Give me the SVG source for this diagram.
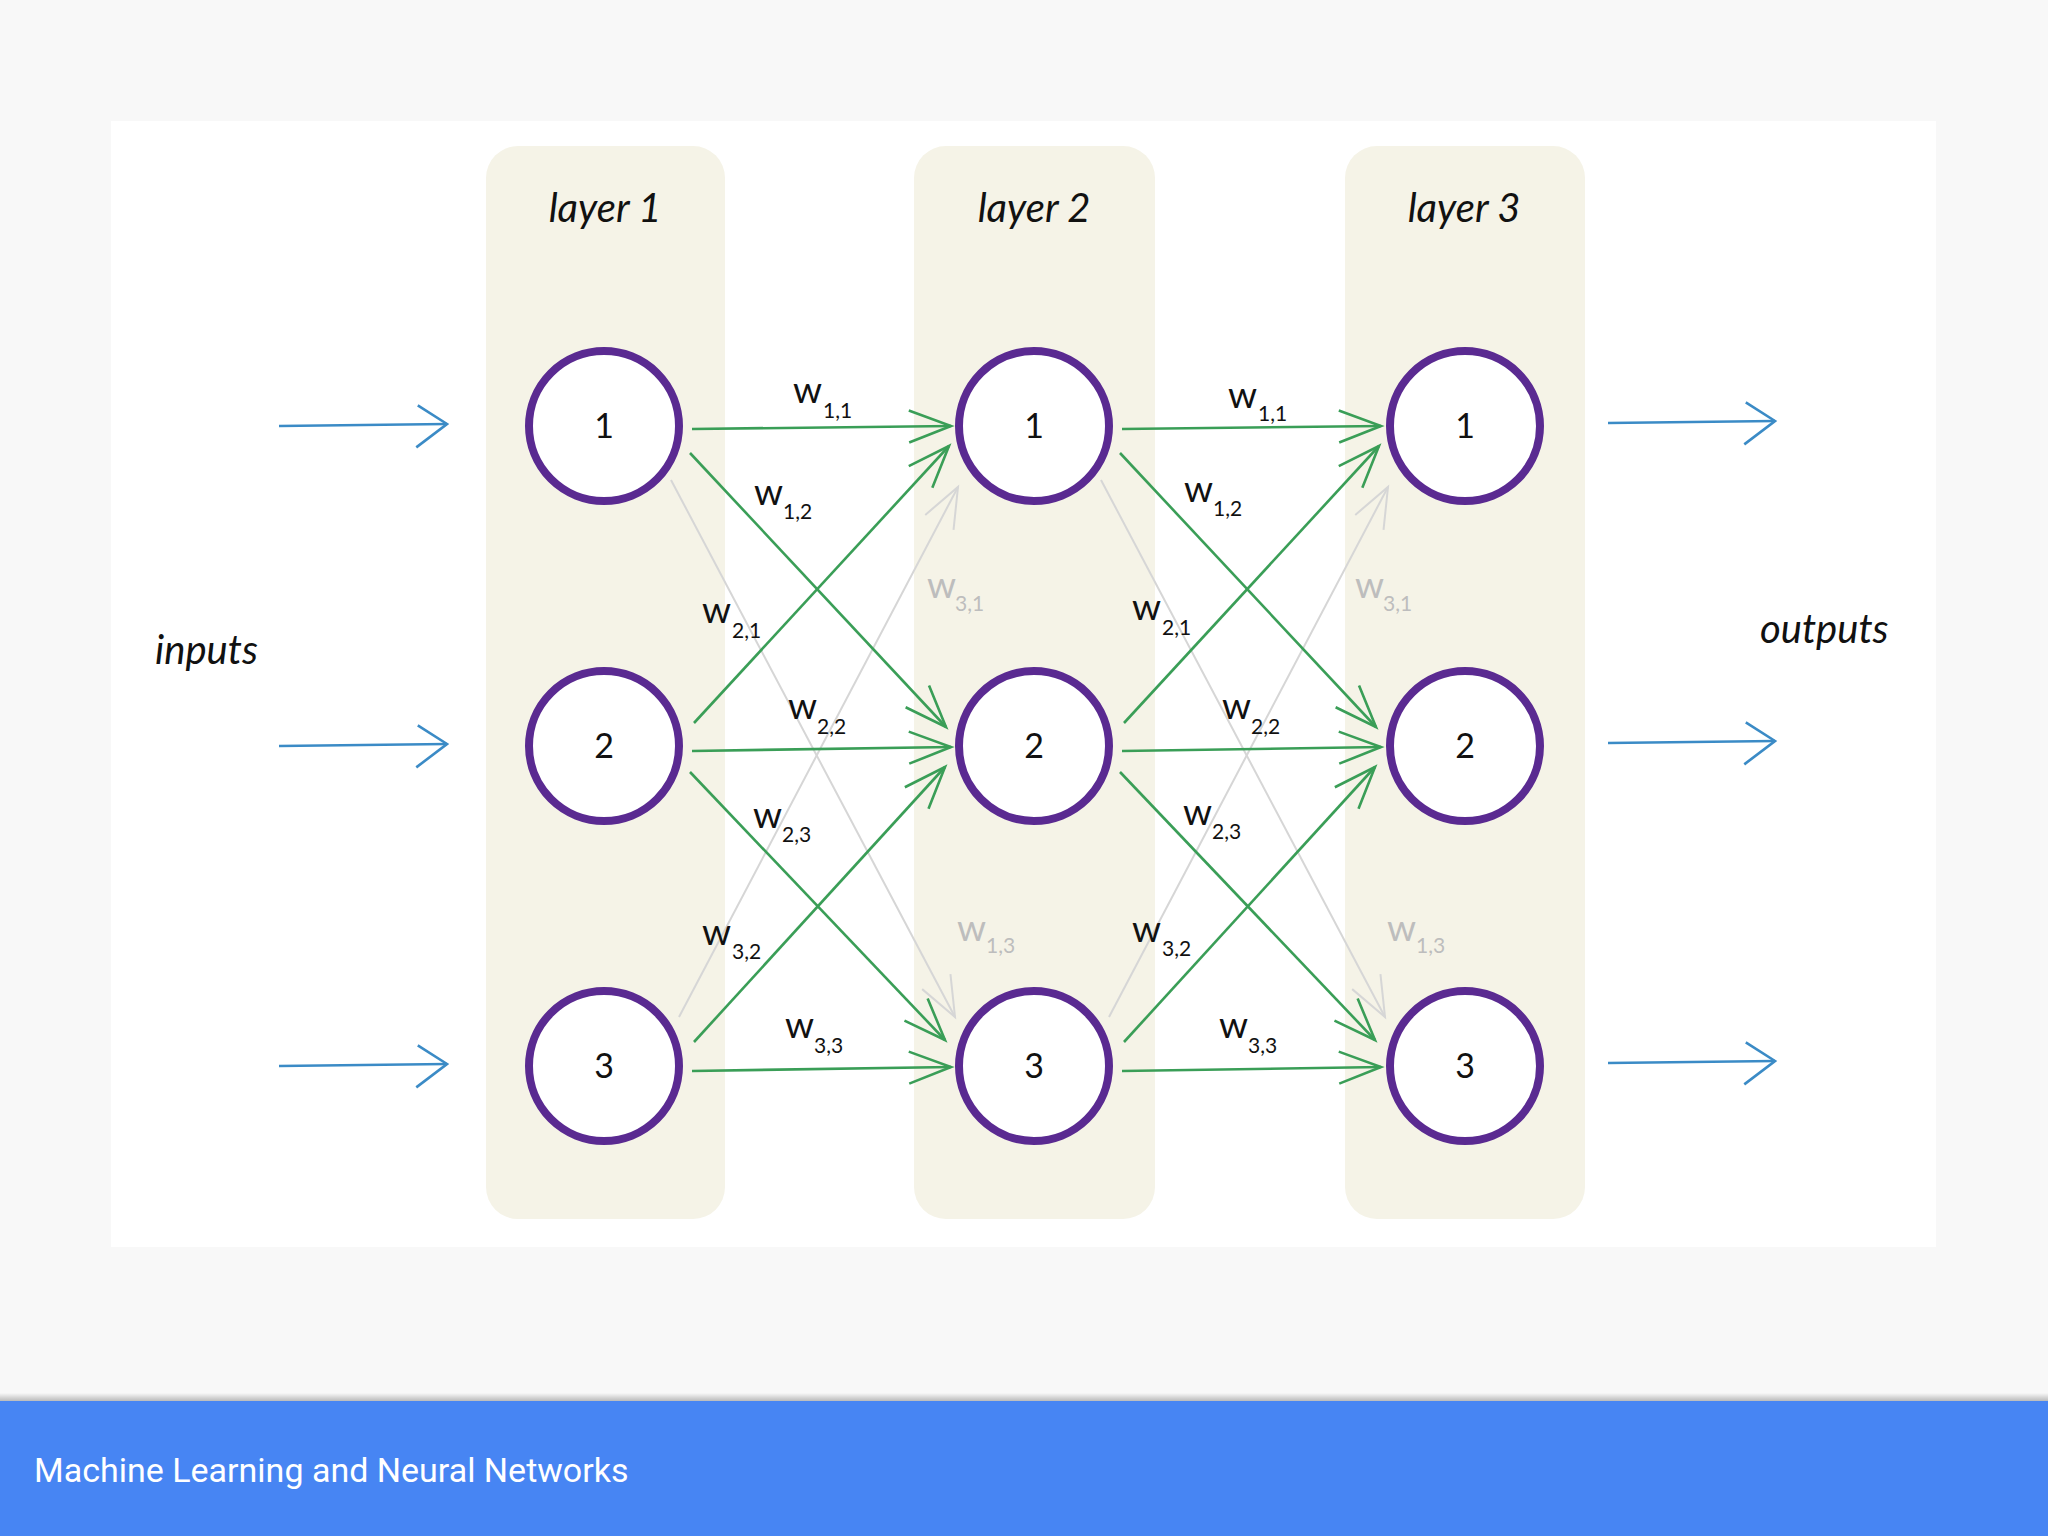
<svg xmlns="http://www.w3.org/2000/svg" width="2048" height="1536" viewBox="0 0 2048 1536">
<defs>
<style>
.col{fill:#f5f3e7}
.node circle{fill:#ffffff;stroke:#5a2a91;stroke-width:8}
.num{font-family:Lato,"Open Sans",sans-serif;font-size:34px;fill:#111;text-anchor:middle}
.hand{font-family:Lato,"Open Sans",sans-serif;font-style:italic;font-size:40px;fill:#111}
.w{font-family:Lato,"Open Sans",sans-serif;font-size:37px;fill:#111}
.wg{font-family:Lato,"Open Sans",sans-serif;font-size:37px;fill:#bdbdbd}
.sub{font-size:21px}
.g{stroke:#3a9e57;stroke-width:2.6;fill:none;marker-end:url(#ag)}
.gr{stroke:#d6d6d6;stroke-width:2;fill:none;marker-end:url(#agr)}
.b{stroke:#3b8bc6;stroke-width:2.6;fill:none;marker-end:url(#ab)}
</style>
<marker id="ag" markerUnits="userSpaceOnUse" markerWidth="60" markerHeight="60" refX="0" refY="0" orient="auto" overflow="visible"><path d="M-42,-16 L0,0 L-42,16" fill="none" stroke="#3a9e57" stroke-width="2.6"/></marker>
<marker id="agr" markerUnits="userSpaceOnUse" markerWidth="60" markerHeight="60" refX="0" refY="0" orient="auto" overflow="visible"><path d="M-40,-16 L0,0 L-40,16" fill="none" stroke="#d6d6d6" stroke-width="2"/></marker>
<marker id="ab" markerUnits="userSpaceOnUse" markerWidth="60" markerHeight="60" refX="0" refY="0" orient="auto" overflow="visible"><path d="M-29,-19 L0,0 L-31,23" fill="none" stroke="#3b8bc6" stroke-width="2.6"/></marker>
<linearGradient id="sh" x1="0" y1="0" x2="0" y2="1"><stop offset="0" stop-color="#000" stop-opacity="0"/><stop offset="1" stop-color="#000" stop-opacity="0.25"/></linearGradient>
</defs>
<rect width="2048" height="1536" fill="#f8f8f8"/>
<rect x="111" y="121" width="1825" height="1126" fill="#ffffff"/>

<g id="layer1"><rect class="col" x="486" y="146" width="239" height="1073" rx="32"/><text class="hand" x="605" y="222" text-anchor="middle">layer 1</text></g>
<g id="layer2"><rect class="col" x="914" y="146" width="241" height="1073" rx="32"/><text class="hand" x="1034" y="222" text-anchor="middle">layer 2</text></g>
<g id="layer3"><rect class="col" x="1345" y="146" width="240" height="1073" rx="32"/><text class="hand" x="1464" y="222" text-anchor="middle">layer 3</text></g>

<g id="connectors">
<path class="b" d="M279,426 L447,424"/>
<path class="b" d="M279,746 L447,744"/>
<path class="b" d="M279,1066 L447,1064"/>
<path class="b" d="M1608,423 L1775,421"/>
<path class="b" d="M1608,743 L1775,741"/>
<path class="b" d="M1608,1063 L1775,1061"/>

<path class="gr" d="M671,480 L955,1017"/>
<path class="gr" d="M679,1017 L958,487"/>
<path class="gr" d="M1101,480 L1385,1017"/>
<path class="gr" d="M1109,1017 L1388,487"/>

<path class="g" d="M692,429 L951,426"/>
<path class="g" d="M690,453 L946,727"/>
<path class="g" d="M694,723 L949,446"/>
<path class="g" d="M692,751 L951,747"/>
<path class="g" d="M690,772 L945,1040"/>
<path class="g" d="M694,1042 L945,767"/>
<path class="g" d="M692,1071 L951,1067"/>

<path class="g" d="M1122,429 L1381,426"/>
<path class="g" d="M1120,453 L1376,727"/>
<path class="g" d="M1124,723 L1379,446"/>
<path class="g" d="M1122,751 L1381,747"/>
<path class="g" d="M1120,772 L1375,1040"/>
<path class="g" d="M1124,1042 L1375,767"/>
<path class="g" d="M1122,1071 L1381,1067"/>
</g>

<g id="weights">
<text class="w" x="793" y="403">w<tspan class="sub" x="823" y="418">1,1</tspan></text>
<text class="w" x="754" y="505">w<tspan class="sub" x="783" y="519">1,2</tspan></text>
<text class="w" x="702" y="623">w<tspan class="sub" x="732" y="638">2,1</tspan></text>
<text class="w" x="788" y="719">w<tspan class="sub" x="817" y="734">2,2</tspan></text>
<text class="wg" x="927" y="598">w<tspan class="sub" x="955" y="611">3,1</tspan></text>
<text class="w" x="753" y="828">w<tspan class="sub" x="782" y="842">2,3</tspan></text>
<text class="w" x="702" y="945">w<tspan class="sub" x="732" y="959">3,2</tspan></text>
<text class="wg" x="957" y="941">w<tspan class="sub" x="986" y="953">1,3</tspan></text>
<text class="w" x="785" y="1038">w<tspan class="sub" x="814" y="1053">3,3</tspan></text>

<text class="w" x="1228" y="408">w<tspan class="sub" x="1258" y="421">1,1</tspan></text>
<text class="w" x="1184" y="502">w<tspan class="sub" x="1213" y="516">1,2</tspan></text>
<text class="w" x="1132" y="620">w<tspan class="sub" x="1162" y="635">2,1</tspan></text>
<text class="w" x="1222" y="719">w<tspan class="sub" x="1251" y="734">2,2</tspan></text>
<text class="wg" x="1355" y="598">w<tspan class="sub" x="1383" y="611">3,1</tspan></text>
<text class="w" x="1183" y="825">w<tspan class="sub" x="1212" y="839">2,3</tspan></text>
<text class="w" x="1132" y="942">w<tspan class="sub" x="1162" y="956">3,2</tspan></text>
<text class="wg" x="1387" y="941">w<tspan class="sub" x="1416" y="953">1,3</tspan></text>
<text class="w" x="1219" y="1038">w<tspan class="sub" x="1248" y="1053">3,3</tspan></text>
</g>

<g id="n1_1" class="node"><circle cx="604" cy="426" r="75"/><text class="num" x="604" y="438">1</text></g>
<g id="n1_2" class="node"><circle cx="604" cy="746" r="75"/><text class="num" x="604" y="758">2</text></g>
<g id="n1_3" class="node"><circle cx="604" cy="1066" r="75"/><text class="num" x="604" y="1078">3</text></g>
<g id="n2_1" class="node"><circle cx="1034" cy="426" r="75"/><text class="num" x="1034" y="438">1</text></g>
<g id="n2_2" class="node"><circle cx="1034" cy="746" r="75"/><text class="num" x="1034" y="758">2</text></g>
<g id="n2_3" class="node"><circle cx="1034" cy="1066" r="75"/><text class="num" x="1034" y="1078">3</text></g>
<g id="n3_1" class="node"><circle cx="1465" cy="426" r="75"/><text class="num" x="1465" y="438">1</text></g>
<g id="n3_2" class="node"><circle cx="1465" cy="746" r="75"/><text class="num" x="1465" y="758">2</text></g>
<g id="n3_3" class="node"><circle cx="1465" cy="1066" r="75"/><text class="num" x="1465" y="1078">3</text></g>

<g id="inputs"><text class="hand" x="155" y="664">inputs</text></g>
<g id="outputs"><text class="hand" x="1760" y="643">outputs</text></g>

<g id="footer">
<rect x="0" y="1393" width="2048" height="8" fill="url(#sh)"/>
<rect x="0" y="1401" width="2048" height="135" fill="#4785f3"/>
<text x="34" y="1482" font-family="Roboto,'Liberation Sans',sans-serif" font-size="34" fill="#ffffff">Machine Learning and Neural Networks</text>
</g>
</svg>
